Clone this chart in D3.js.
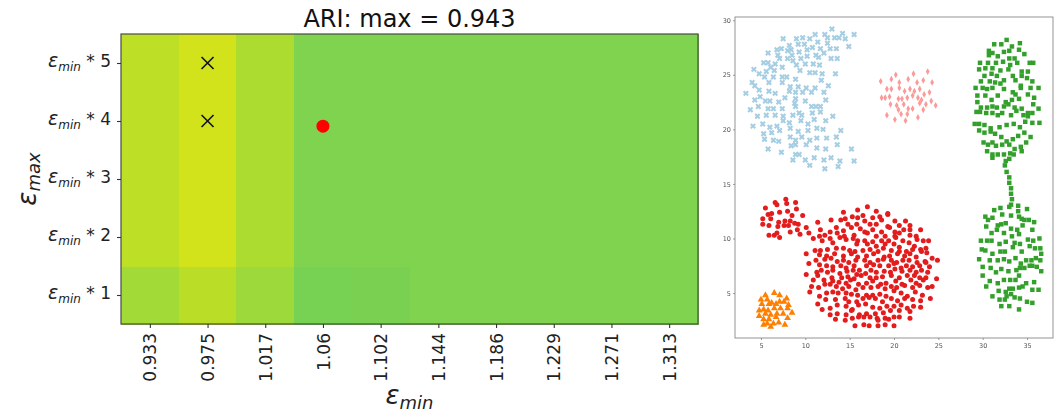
<!DOCTYPE html>
<html><head><meta charset="utf-8">
<script src="https://cdn.jsdelivr.net/npm/d3@7"></script>
<style>
body{margin:0;background:#fff}
svg{display:block;font-family:"DejaVu Sans",sans-serif}
</style>
</head><body>
<svg id="chart" width="1059" height="414"></svg>
<script>
// ---- heatmap data ----
const epsMinLabels = ["0.933","0.975","1.017","1.06","1.102","1.144","1.186","1.229","1.271","1.313"];
const multipliers = [1, 2, 3, 4, 5];
// normalised score per cell, one row per multiplier (1..5), one entry per eps_min column
const scoreMult1 = [0.861, 0.896, 0.853, 0.795, 0.800, 0.807, 0.807, 0.807, 0.807, 0.807];
const scoreMult2 = [0.900, 0.932, 0.877, 0.807, 0.807, 0.807, 0.807, 0.807, 0.807, 0.807];
const scoreMult3 = [0.900, 0.932, 0.877, 0.807, 0.807, 0.807, 0.807, 0.807, 0.807, 0.807];
const scoreMult4 = [0.900, 0.932, 0.877, 0.807, 0.807, 0.807, 0.807, 0.807, 0.807, 0.807];
const scoreMult5 = [0.900, 0.932, 0.877, 0.807, 0.807, 0.807, 0.807, 0.807, 0.807, 0.807];
const scoreRows = [scoreMult1, scoreMult2, scoreMult3, scoreMult4, scoreMult5];
const crossMarks = [{eps: "0.975", mult: 5}, {eps: "0.975", mult: 4}];
const bestSetting = {eps: "1.06", mult: 3.91};
const titleText = "ARI: max = 0.943";

// ---- clustering result (x, y) per cluster ----
const clusterBlue = [[13.0,29.2],[14.2,28.8],[15.5,28.7],[11.1,28.7],[12.2,28.7],[12.5,28.4],[13.3,28.4],[13.8,28.4],[9.7,28.4],[10.5,28.3],[14.5,28.3],[7.5,28.3],[9.0,28.3],[14.9,27.6],[11.4,28.0],[12.5,27.9],[9.2,27.8],[9.9,27.8],[8.2,27.7],[7.3,27.4],[8.4,27.3],[6.8,27.3],[8.0,27.2],[10.2,27.3],[10.8,27.5],[11.7,27.4],[12.8,27.4],[13.5,27.4],[12.1,27.0],[5.8,27.0],[6.9,26.8],[7.1,26.5],[8.5,26.8],[9.3,27.1],[11.2,26.8],[12.9,26.5],[13.6,26.5],[8.0,26.5],[9.5,26.5],[10.2,26.7],[11.5,26.6],[5.3,26.1],[5.8,26.1],[6.6,26.0],[6.1,25.7],[6.5,25.4],[7.4,25.7],[8.6,26.3],[9.0,25.9],[10.0,26.0],[10.9,26.0],[11.6,25.9],[4.2,25.5],[4.8,25.1],[5.6,25.3],[5.4,24.8],[6.4,24.8],[7.4,24.8],[7.9,24.8],[8.9,24.6],[9.4,25.4],[10.5,25.2],[11.1,25.2],[11.9,25.1],[13.4,25.1],[4.0,24.3],[4.3,24.0],[4.8,23.6],[5.9,24.3],[7.4,24.3],[8.3,23.9],[9.2,23.9],[10.1,23.8],[11.1,23.8],[11.8,24.5],[12.6,24.0],[3.3,23.3],[4.3,22.7],[4.9,23.0],[5.9,23.5],[6.6,23.3],[8.2,23.5],[8.9,23.4],[9.7,23.4],[10.7,23.4],[12.1,23.4],[5.5,22.6],[6.0,22.6],[7.0,22.5],[7.7,22.9],[8.9,22.8],[10.0,22.6],[12.3,22.7],[3.8,21.8],[4.7,22.1],[5.8,21.9],[6.4,21.9],[7.4,21.9],[8.8,22.4],[8.9,22.1],[9.3,21.5],[10.7,22.1],[11.2,22.1],[11.7,22.1],[4.6,21.2],[5.6,21.3],[6.6,21.3],[7.5,21.2],[8.6,21.3],[9.6,21.3],[10.8,21.5],[11.7,21.6],[13.1,21.2],[4.1,20.3],[5.2,20.5],[6.0,20.2],[6.8,20.3],[7.5,20.8],[8.2,20.6],[9.5,20.8],[10.3,20.5],[11.0,20.9],[12.3,20.8],[5.3,19.6],[6.2,19.7],[7.1,19.9],[8.3,20.1],[9.2,19.8],[10.3,19.9],[11.3,20.1],[12.0,20.0],[14.0,19.9],[5.4,19.1],[6.4,19.0],[7.0,18.9],[8.3,19.3],[8.9,19.0],[9.6,19.3],[10.5,19.0],[11.3,19.2],[12.4,19.2],[13.5,19.3],[15.2,18.2],[5.8,18.2],[7.3,17.9],[8.4,18.5],[8.9,18.6],[10.1,18.6],[11.3,18.3],[12.3,18.2],[13.6,18.6],[8.9,17.7],[9.3,17.7],[8.6,17.2],[10.0,17.2],[10.5,16.7],[11.0,17.4],[12.1,17.2],[12.9,17.4],[13.9,17.1],[12.2,16.4],[13.7,16.6],[15.5,17.1]];
const clusterPink = [[18.5,24.4],[19.7,24.6],[20.2,25.0],[20.6,24.3],[21.6,24.6],[22.2,25.1],[22.6,24.3],[23.3,24.5],[23.8,25.3],[24.3,24.3],[19.2,23.7],[19.7,23.7],[20.6,23.8],[21.2,23.5],[21.8,23.7],[22.3,23.5],[22.9,23.7],[23.4,23.2],[24.0,23.4],[18.6,22.9],[19.0,22.9],[19.5,23.0],[20.5,22.8],[20.9,22.8],[21.5,22.9],[22.1,23.1],[22.7,22.9],[23.1,22.7],[19.6,22.3],[20.3,22.2],[21.1,22.3],[21.6,21.9],[22.1,21.9],[22.9,22.4],[23.6,22.3],[24.2,22.6],[24.7,22.2],[19.2,21.3],[20.5,21.8],[21.5,21.4],[22.7,21.1],[20.1,20.9],[21.3,20.8],[23.3,21.8],[20.8,21.4]];
const clusterGreen = [[32.7,28.2],[31.3,27.8],[32.1,27.8],[33.3,27.6],[34.2,27.9],[30.7,27.2],[31.1,27.0],[32.4,27.1],[33.0,27.2],[34.1,27.3],[34.7,26.9],[30.7,26.8],[31.7,26.7],[33.6,26.5],[33.0,26.5],[29.7,26.1],[30.6,26.1],[31.5,26.1],[32.3,26.2],[33.1,25.9],[33.9,26.1],[35.3,26.1],[35.7,26.1],[29.6,25.5],[30.3,25.6],[31.1,25.6],[32.0,25.4],[32.9,25.5],[34.4,25.3],[35.1,25.3],[30.2,24.9],[31.0,25.1],[31.6,24.9],[32.4,24.5],[33.4,24.9],[34.4,24.9],[35.0,24.7],[29.8,24.4],[30.8,24.4],[31.4,24.3],[32.0,24.2],[33.7,24.5],[34.3,24.0],[35.6,24.4],[36.3,23.8],[29.2,23.8],[30.0,23.8],[30.5,23.7],[31.1,23.8],[32.4,23.7],[33.4,23.4],[33.7,23.2],[34.3,23.8],[35.4,23.8],[29.4,23.1],[30.3,23.1],[31.0,22.7],[31.7,23.1],[32.6,22.5],[33.3,22.7],[34.1,22.8],[35.1,23.2],[35.8,22.9],[29.4,22.5],[29.8,22.0],[30.5,22.0],[31.1,22.1],[31.6,22.0],[32.4,22.1],[32.9,22.3],[33.6,22.0],[34.4,21.9],[35.1,21.5],[35.7,22.3],[36.3,21.9],[29.3,21.6],[29.7,21.6],[30.4,21.5],[31.1,21.5],[31.7,21.3],[32.2,21.5],[33.2,21.3],[33.8,21.7],[34.6,21.3],[35.1,21.2],[35.6,21.5],[29.1,20.5],[29.6,20.5],[30.2,20.4],[30.9,20.1],[31.9,20.2],[32.7,20.4],[33.5,20.5],[34.2,20.2],[34.8,20.7],[35.6,20.6],[36.4,20.6],[29.6,19.9],[30.2,19.7],[30.9,19.8],[31.4,19.6],[32.1,19.3],[32.7,18.9],[33.4,19.1],[34.0,19.4],[34.7,19.7],[35.4,19.3],[30.1,18.8],[30.6,18.6],[31.1,18.8],[31.5,18.5],[32.2,18.6],[33.0,18.6],[33.6,18.2],[34.3,18.4],[34.9,18.8],[30.5,18.0],[31.1,17.7],[31.7,17.7],[32.4,17.7],[33.1,17.8],[33.5,17.7],[34.4,18.0],[31.1,17.4],[32.6,17.1],[32.5,16.7],[33.0,17.3],[32.7,16.1],[33.0,15.6],[33.0,15.1],[33.2,14.6],[33.2,14.1],[33.3,13.6],[33.2,13.1],[33.0,12.9],[34.0,13.0],[31.3,12.6],[32.0,12.8],[35.0,12.7],[30.3,12.0],[30.6,11.7],[31.1,11.9],[32.2,12.2],[33.2,12.1],[34.0,12.5],[34.1,12.0],[32.1,11.3],[31.7,11.2],[32.6,11.4],[34.4,11.8],[34.7,11.7],[35.2,11.7],[35.8,11.5],[30.4,11.1],[31.0,10.5],[31.6,10.8],[32.4,10.5],[33.2,10.9],[33.9,10.8],[34.5,11.2],[35.6,10.8],[29.8,9.8],[30.5,9.8],[31.0,9.8],[31.9,9.5],[32.6,9.7],[33.3,10.2],[34.1,10.4],[33.6,9.6],[34.2,9.5],[35.1,9.9],[35.7,9.8],[36.4,10.0],[29.9,9.0],[30.3,8.9],[31.1,8.6],[32.0,8.8],[32.5,8.8],[33.4,9.2],[34.4,8.8],[35.3,9.3],[35.9,9.1],[36.5,9.1],[36.6,8.6],[29.6,8.1],[30.8,8.0],[31.7,8.0],[32.4,8.1],[33.0,7.9],[33.7,8.2],[34.3,7.7],[34.9,8.0],[35.5,8.0],[36.0,8.2],[36.5,8.0],[30.0,7.4],[30.9,7.3],[31.5,6.9],[32.1,7.2],[32.9,7.0],[33.8,7.1],[34.2,7.3],[34.7,7.3],[35.3,7.5],[35.6,7.5],[36.1,7.4],[36.6,7.0],[30.0,6.6],[30.8,6.1],[31.7,5.9],[32.4,6.2],[33.1,6.2],[33.7,6.2],[34.1,6.6],[34.9,5.9],[35.8,6.0],[30.4,5.6],[31.1,4.7],[31.8,5.2],[32.6,5.1],[33.0,5.4],[33.4,5.4],[34.1,5.5],[34.5,5.6],[35.6,5.3],[36.3,5.3],[31.9,4.4],[32.5,4.4],[32.7,4.7],[33.2,4.9],[33.6,4.6],[34.2,4.5],[35.0,4.2],[35.6,4.1],[32.1,3.8],[33.0,3.8],[34.1,3.5]];
const clusterRed = [[5.5,12.8],[6.6,13.3],[6.8,13.1],[7.8,13.6],[7.9,13.2],[8.9,13.3],[5.8,12.2],[6.2,12.3],[7.1,12.4],[8.0,12.5],[8.5,12.1],[9.0,12.7],[9.7,12.1],[5.2,11.8],[6.1,11.8],[7.0,11.5],[7.7,11.6],[8.3,11.6],[9.2,11.3],[10.1,11.0],[5.2,11.3],[5.9,11.2],[6.9,11.1],[7.6,11.2],[8.1,11.2],[8.8,11.4],[10.4,10.5],[5.9,10.3],[6.5,10.3],[7.1,10.1],[8.3,10.6],[9.1,10.8],[9.4,10.4],[6.8,10.5],
[14.3,12.4],[15.9,12.6],[17.0,12.9],[18.0,12.5],[19.3,12.2],[18.4,12.0],[16.5,12.1],[15.3,12.0],[12.9,11.7],[14.0,11.7],[14.5,11.8],[15.9,11.9],[16.7,11.6],[17.6,11.9],[18.6,11.7],[19.3,12.3],[20.1,11.6],[21.3,11.6],[11.4,11.5],[14.8,11.3],[15.8,11.3],[17.3,11.3],[18.0,11.3],[20.6,11.2],[21.8,11.2],[19.3,11.1],[11.7,10.8],[12.8,10.6],[13.5,11.0],[14.3,10.7],[15.2,11.0],[16.2,10.9],[16.7,10.6],[17.6,10.8],[18.6,10.6],[19.5,11.0],[20.1,10.6],[21.1,10.8],[21.8,10.8],[23.0,10.8],[11.6,10.2],[12.2,10.3],[13.6,10.5],[14.4,10.2],[15.5,10.3],[17.0,10.5],[18.0,10.2],[19.0,10.2],[20.1,10.2],[20.6,10.5],[21.8,10.3],[22.5,10.2],[10.9,10.0],[11.9,9.8],[12.8,10.0],[13.9,10.1],[14.6,9.9],[15.4,10.0],[15.9,9.8],[16.7,9.8],[17.6,9.7],[18.6,9.8],[19.4,9.8],[20.2,10.1],[21.0,9.8],[21.7,9.6],[22.6,9.9],[23.3,9.8],[23.9,9.8],[13.1,9.6],[15.8,9.5],[17.0,9.5],[18.0,9.3],[19.0,9.5],[20.0,9.5],[20.6,9.2],[22.3,9.3],[23.6,9.1],[11.1,8.9],[11.7,8.9],[12.5,9.0],[13.5,9.1],[14.3,9.1],[15.0,8.9],[15.6,8.8],[16.5,8.9],[17.3,9.0],[18.2,8.8],[18.8,9.1],[19.7,8.9],[20.6,8.8],[21.4,8.8],[22.1,9.0],[23.0,9.0],[23.7,8.7],[10.1,8.6],[11.6,8.5],[12.4,8.4],[13.3,8.6],[14.3,8.4],[15.2,8.6],[15.9,8.3],[16.9,8.4],[17.7,8.6],[18.9,8.3],[19.5,8.4],[20.4,8.6],[21.2,8.4],[21.8,8.6],[22.5,8.3],[23.1,8.8],[11.2,8.0],[12.2,8.1],[12.9,8.2],[13.6,7.9],[14.3,8.0],[14.9,7.8],[15.7,8.0],[16.7,8.0],[17.3,7.8],[18.2,8.0],[18.8,8.1],[19.7,8.0],[20.3,7.8],[21.0,8.0],[21.7,8.0],[22.6,7.8],[23.5,7.9],[24.3,8.2],[24.9,8.0],[10.4,7.7],[11.6,7.6],[12.4,7.5],[13.1,7.4],[14.0,7.5],[14.6,7.3],[15.5,7.5],[16.1,7.1],[16.9,7.5],[17.7,7.6],[18.4,7.5],[19.4,7.5],[20.0,7.7],[20.8,7.3],[21.4,7.5],[22.1,7.4],[22.9,7.5],[23.6,7.8],[24.0,7.4],[11.3,6.9],[11.8,7.1],[12.5,6.9],[13.1,7.1],[13.9,6.8],[14.7,7.0],[15.4,7.1],[15.8,6.7],[16.8,6.8],[17.4,7.1],[18.0,6.9],[18.9,7.0],[19.6,6.9],[20.1,7.2],[20.9,7.0],[21.8,7.1],[22.5,6.9],[23.1,7.1],[23.8,6.9],[10.1,6.7],[11.4,6.6],[13.0,6.4],[14.1,6.4],[14.8,6.5],[15.5,6.3],[16.3,6.6],[17.3,6.4],[18.0,6.4],[18.7,6.5],[19.7,6.6],[20.6,6.4],[21.5,6.6],[22.3,6.6],[22.9,6.4],[23.6,6.4],[24.8,6.3],[10.9,6.2],[12.1,6.2],[13.1,6.1],[13.8,6.0],[14.6,5.9],[15.1,6.2],[16.0,5.8],[16.9,5.9],[17.6,6.1],[18.5,5.8],[19.1,5.9],[20.2,6.1],[20.9,5.8],[21.9,6.2],[22.5,5.9],[23.3,6.2],[10.7,5.6],[11.5,5.5],[12.2,5.8],[12.8,5.8],[13.5,5.6],[14.2,5.4],[14.9,5.6],[15.7,5.3],[16.5,5.5],[17.4,5.5],[18.2,5.6],[19.0,5.4],[19.7,5.6],[20.3,5.5],[21.2,5.7],[22.1,5.5],[22.9,5.7],[23.8,5.5],[24.3,5.6],[10.5,5.1],[11.6,4.7],[12.4,5.0],[13.1,5.1],[13.7,5.0],[14.6,5.0],[15.2,4.9],[15.9,4.8],[16.9,4.8],[17.6,4.8],[18.4,4.9],[19.1,4.7],[20.0,5.2],[20.8,5.0],[21.5,4.7],[22.4,5.1],[23.2,4.8],[24.1,4.5],[11.4,4.0],[12.3,4.4],[13.4,4.4],[14.5,4.5],[14.9,4.2],[15.8,4.2],[16.5,4.5],[17.2,4.6],[17.9,4.5],[18.7,4.2],[19.7,4.5],[20.4,4.3],[21.2,4.5],[22.1,4.4],[23.0,4.3],[11.9,3.5],[12.8,3.6],[13.6,3.9],[14.6,3.8],[15.3,3.5],[16.0,3.9],[16.8,4.0],[17.6,3.7],[18.4,3.6],[19.2,3.8],[20.0,3.8],[20.8,3.9],[21.5,3.6],[22.2,3.8],[23.0,3.7],[12.8,3.0],[13.6,3.1],[14.6,3.0],[15.2,3.4],[16.1,3.0],[16.9,3.1],[17.9,3.1],[18.8,3.2],[19.6,3.4],[20.6,3.4],[21.8,3.3],[13.4,2.6],[14.5,2.5],[15.3,2.7],[16.0,2.8],[16.6,2.8],[17.3,2.8],[18.1,2.7],[19.0,2.7],[19.4,2.6],[20.0,2.8],[20.6,2.8],[21.8,2.7],[15.6,2.0],[16.6,2.1],[17.2,2.0],[18.2,2.5],[18.2,2.0],[19.0,2.1],[20.0,2.0]];
const clusterOrange = [[5.5,4.8],[6.5,5.0],[7.1,4.8],[7.9,4.5],[5.0,4.4],[5.7,4.4],[6.2,4.1],[7.1,4.2],[7.6,4.2],[5.1,4.0],[5.9,4.0],[6.7,4.0],[8.1,3.9],[4.8,3.4],[5.3,3.5],[5.8,3.4],[6.5,3.6],[7.2,3.6],[8.0,3.6],[8.5,3.2],[4.8,2.9],[5.5,3.1],[6.1,3.0],[6.8,3.1],[7.5,3.1],[5.3,2.6],[5.9,2.6],[6.7,2.8],[8.0,2.7],[5.7,2.2],[6.4,2.2],[7.0,2.3],[7.7,2.1],[6.1,1.9],[5.3,2.1]];
const scatterXTicks = [5, 10, 15, 20, 25, 30, 35];
const scatterYTicks = [5, 10, 15, 20, 25, 30];

const svg = d3.select("#chart");

// ================= heatmap =================
const hm = {left: 121, right: 698, top: 34, bottom: 324};
const xCol = d3.scaleLinear().domain([-0.5, epsMinLabels.length - 0.5]).range([hm.left, hm.right]);
const yMul = d3.scaleLinear().domain([0.5, multipliers.length + 0.5]).range([hm.bottom, hm.top]);
const colour = t => d3.interpolateViridis(t);

const cells = [];
scoreRows.forEach((row, ri) => row.forEach((v, ci) => cells.push({ci, mult: multipliers[ri], v})));
svg.append("g").attr("shape-rendering", "crispEdges")
  .selectAll("rect").data(cells).join("rect")
  .attr("x", d => xCol(d.ci - 0.5))
  .attr("y", d => yMul(d.mult + 0.5))
  .attr("width", d => xCol(d.ci + 0.5) - xCol(d.ci - 0.5) + 0.6)
  .attr("height", d => yMul(d.mult - 0.5) - yMul(d.mult + 0.5) + 0.6)
  .attr("fill", d => colour(d.v));

// cross markers
const crossG = svg.append("g");
crossMarks.forEach(c => {
  const cx = xCol(epsMinLabels.indexOf(c.eps)), cy = yMul(c.mult), r = 6;
  crossG.append("path")
    .attr("d", `M${cx - r},${cy - r}L${cx + r},${cy + r}M${cx - r},${cy + r}L${cx + r},${cy - r}`)
    .attr("stroke", "#111").attr("stroke-width", 1.6).attr("fill", "none");
});
// best setting
svg.append("circle")
  .attr("cx", xCol(epsMinLabels.indexOf(bestSetting.eps)))
  .attr("cy", yMul(bestSetting.mult))
  .attr("r", 6.5).attr("fill", "#ff0000");

// frame
svg.append("rect").attr("x", hm.left).attr("y", hm.top)
  .attr("width", hm.right - hm.left).attr("height", hm.bottom - hm.top)
  .attr("fill", "none").attr("stroke", "#4a4a4a").attr("stroke-width", 1.2);

// x axis
const xAxisG = svg.append("g").attr("transform", `translate(0,${hm.bottom})`)
  .call(d3.axisBottom(xCol).tickValues(d3.range(epsMinLabels.length))
    .tickFormat(i => epsMinLabels[i]).tickSize(4).tickSizeOuter(0));
xAxisG.select(".domain").remove();
xAxisG.selectAll(".tick line").attr("stroke", "#333").attr("stroke-width", 1.1);
xAxisG.selectAll(".tick text")
  .attr("transform", "rotate(-90)")
  .attr("x", -9).attr("y", 0).attr("dy", "0.36em")
  .attr("text-anchor", "end")
  .attr("font-size", 17).attr("font-family", "DejaVu Sans").attr("fill", "#222");

// y axis with math-style labels
const yAxisG = svg.append("g").attr("transform", `translate(${hm.left},0)`)
  .call(d3.axisLeft(yMul).tickValues(multipliers).tickFormat("").tickSize(4).tickSizeOuter(0));
yAxisG.select(".domain").remove();
yAxisG.selectAll(".tick line").attr("stroke", "#333").attr("stroke-width", 1.1);
yAxisG.selectAll(".tick").each(function (m) {
  const t = d3.select(this).append("text")
    .attr("x", -10).attr("dy", "0.36em").attr("text-anchor", "end")
    .attr("fill", "#222").attr("font-family", "DejaVu Sans");
  t.append("tspan").attr("font-style", "italic").attr("font-size", 19).text("ε");
  t.append("tspan").attr("font-style", "italic").attr("font-size", 12).attr("dy", 4).text("min");
  t.append("tspan").attr("font-size", 17).attr("dy", -4).text(" * " + m);
});

// axis titles
const xt = svg.append("text").attr("x", (hm.left + hm.right) / 2).attr("y", 404)
  .attr("text-anchor", "middle").attr("fill", "#222");
xt.append("tspan").attr("font-style", "italic").attr("font-size", 26).text("ε");
xt.append("tspan").attr("font-style", "italic").attr("font-size", 18).attr("dy", 5).text("min");

const yt = svg.append("text")
  .attr("transform", `translate(36,${(hm.top + hm.bottom) / 2}) rotate(-90)`)
  .attr("text-anchor", "middle").attr("fill", "#222");
yt.append("tspan").attr("font-style", "italic").attr("font-size", 26).text("ε");
yt.append("tspan").attr("font-style", "italic").attr("font-size", 18).attr("dy", 4).text("max");

svg.append("text").attr("x", (hm.left + hm.right) / 2).attr("y", 27)
  .attr("text-anchor", "middle").attr("font-size", 24).attr("fill", "#111")
  .text(titleText);

// ================= cluster scatter =================
const sc = {left: 735, right: 1053, top: 17, bottom: 338};
const xs = d3.scaleLinear().domain([2.07, 37.93]).range([sc.left, sc.right]);
const ys = d3.scaleLinear().domain([0.88, 30.3]).range([sc.bottom, sc.top]);

const defs = svg.append("defs");
defs.append("filter").attr("id", "soft").append("feGaussianBlur").attr("stdDeviation", 0.45);

const pts = svg.append("g").attr("filter", "url(#soft)");
const sym = (type, size) => d3.symbol().type(type).size(size)();

pts.append("g").selectAll("path").data(clusterBlue).join("path")
  .attr("d", sym(d3.symbolCross, 22))
  .attr("transform", d => `translate(${xs(d[0])},${ys(d[1])}) rotate(45)`)
  .attr("fill", "#a6cee3");
pts.append("g").selectAll("path").data(clusterPink).join("path")
  .attr("d", "M0,-3.4L1.9,0L0,3.4L-1.9,0Z")
  .attr("transform", d => `translate(${xs(d[0])},${ys(d[1])})`)
  .attr("fill", "#fb9a99");
pts.append("g").selectAll("path").data(clusterGreen).join("path")
  .attr("d", sym(d3.symbolSquare, 20))
  .attr("transform", d => `translate(${xs(d[0])},${ys(d[1])})`)
  .attr("fill", "#33a02c");
pts.append("g").selectAll("circle").data(clusterRed).join("circle")
  .attr("cx", d => xs(d[0])).attr("cy", d => ys(d[1])).attr("r", 2.5)
  .attr("fill", "#e31a1c");
pts.append("g").selectAll("path").data(clusterOrange).join("path")
  .attr("d", sym(d3.symbolTriangle, 20))
  .attr("transform", d => `translate(${xs(d[0])},${ys(d[1])})`)
  .attr("fill", "#ff7f00");

svg.append("rect").attr("x", sc.left).attr("y", sc.top)
  .attr("width", sc.right - sc.left).attr("height", sc.bottom - sc.top)
  .attr("fill", "none").attr("stroke", "#888").attr("stroke-width", 0.9);

const sxAxis = svg.append("g").attr("transform", `translate(0,${sc.bottom})`)
  .call(d3.axisBottom(xs).tickValues(scatterXTicks).tickSize(2).tickSizeOuter(0));
const syAxis = svg.append("g").attr("transform", `translate(${sc.left},0)`)
  .call(d3.axisLeft(ys).tickValues(scatterYTicks).tickSize(2).tickSizeOuter(0));
[sxAxis, syAxis].forEach(g => {
  g.select(".domain").remove();
  g.selectAll(".tick line").attr("stroke", "#777").attr("stroke-width", 0.7);
  g.selectAll(".tick text").attr("font-size", 6.5).attr("fill", "#555").attr("font-family", "DejaVu Sans");
});
sxAxis.selectAll(".tick text").attr("y", 5);
syAxis.selectAll(".tick text").attr("x", -4);
</script>
</body></html>
